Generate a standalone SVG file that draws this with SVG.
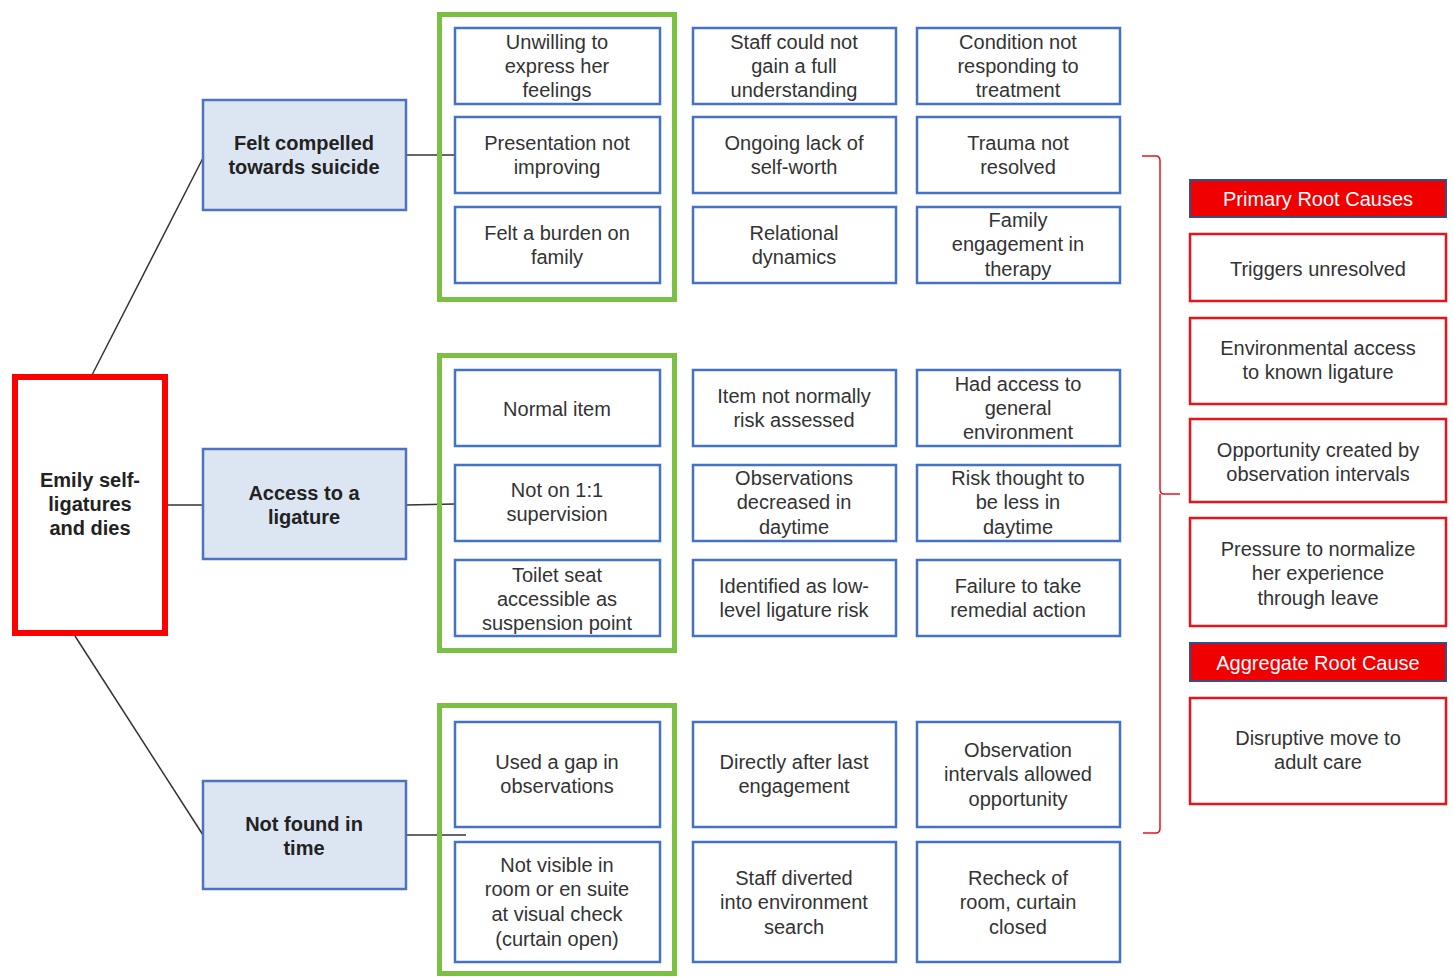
<svg xmlns="http://www.w3.org/2000/svg" width="1453" height="977" viewBox="0 0 1453 977">
<style>
text{font-family:"Liberation Sans",Arial,sans-serif;font-size:20px;fill:#333;text-anchor:middle}
.b{font-weight:bold;fill:#222}
.w{fill:#fff}
.inner{fill:#fff;stroke:#4472c4;stroke-width:2.5}
.lvl{fill:#dce6f2;stroke:#4f72c0;stroke-width:2.5}
.green{fill:none;stroke:#7ac143;stroke-width:5}
.rc{fill:#fff;stroke:#e8141c;stroke-width:2.5}
.hdr{fill:#f00000;stroke:#2f4f8f;stroke-width:2}
.conn{fill:none;stroke:#333;stroke-width:1.5}
</style>
<rect width="1453" height="977" fill="#fff"/>
<g id="connectors">
<line class="conn" x1="92" y1="375" x2="203" y2="158"/>
<line class="conn" x1="168" y1="505" x2="203" y2="505"/>
<line class="conn" x1="75" y1="636" x2="203" y2="835"/>
<line class="conn" x1="406" y1="155" x2="455" y2="155"/>
<line class="conn" x1="406" y1="505" x2="455" y2="504"/>
<line class="conn" x1="406" y1="835" x2="466" y2="835"/>
<path d="M1142 156 L1156 156 Q1160 156 1160 161 L1160 489 Q1160 494 1164 494 L1180 494 M1160 494 L1160 828 Q1160 833 1156 833 L1143 833" fill="none" stroke="#e8141c" stroke-width="1.5"/>
</g>
<g id="root">
<rect x="15" y="377" width="150" height="256" fill="#fff" stroke="#f00" stroke-width="6"/>
<text class="b" x="90" y="487">Emily self-</text>
<text class="b" x="90" y="511">ligatures</text>
<text class="b" x="90" y="535">and dies</text>
</g>
<g id="l1-compelled"><rect class="lvl" x="203" y="100" width="203" height="110"/>
<text class="b" x="304" y="150">Felt compelled</text><text class="b" x="304" y="174">towards suicide</text></g>
<g id="l1-access"><rect class="lvl" x="203" y="449" width="203" height="110"/>
<text class="b" x="304" y="500">Access to a</text><text class="b" x="304" y="524">ligature</text></g>
<g id="l1-notfound"><rect class="lvl" x="203" y="781" width="203" height="108"/>
<text class="b" x="304" y="831">Not found in</text><text class="b" x="304" y="855">time</text></g>
<g id="green-groups">
<rect class="green" x="439.5" y="14.5" width="235" height="285"/>
<rect class="green" x="439.5" y="355.5" width="235" height="295"/>
<rect class="green" x="439.5" y="705.5" width="235" height="268"/>
</g>
<g id="top-c1r1"><rect class="inner" x="455" y="28" width="205" height="76"/><text x="557" y="49">Unwilling to</text><text x="557" y="73">express her</text><text x="557" y="97">feelings</text></g>
<g id="top-c1r2"><rect class="inner" x="455" y="117" width="205" height="76"/><text x="557" y="150">Presentation not</text><text x="557" y="174">improving</text></g>
<g id="top-c1r3"><rect class="inner" x="455" y="207" width="205" height="76"/><text x="557" y="240">Felt a burden on</text><text x="557" y="264">family</text></g>
<g id="top-c2r1"><rect class="inner" x="693" y="28" width="203" height="76"/><text x="794" y="49">Staff could not</text><text x="794" y="73">gain a full</text><text x="794" y="97">understanding</text></g>
<g id="top-c2r2"><rect class="inner" x="693" y="117" width="203" height="76"/><text x="794" y="150">Ongoing lack of</text><text x="794" y="174">self-worth</text></g>
<g id="top-c2r3"><rect class="inner" x="693" y="207" width="203" height="76"/><text x="794" y="240">Relational</text><text x="794" y="264">dynamics</text></g>
<g id="top-c3r1"><rect class="inner" x="917" y="28" width="203" height="76"/><text x="1018" y="49">Condition not</text><text x="1018" y="73">responding to</text><text x="1018" y="97">treatment</text></g>
<g id="top-c3r2"><rect class="inner" x="917" y="117" width="203" height="76"/><text x="1018" y="150">Trauma not</text><text x="1018" y="174">resolved</text></g>
<g id="top-c3r3"><rect class="inner" x="917" y="207" width="203" height="76"/><text x="1018" y="227">Family</text><text x="1018" y="251">engagement in</text><text x="1018" y="276">therapy</text></g>
<g id="mid-c1r1"><rect class="inner" x="455" y="370" width="205" height="76"/><text x="557" y="416">Normal item</text></g>
<g id="mid-c1r2"><rect class="inner" x="455" y="465" width="205" height="76"/><text x="557" y="497">Not on 1:1</text><text x="557" y="521">supervision</text></g>
<g id="mid-c1r3"><rect class="inner" x="455" y="560" width="205" height="76"/><text x="557" y="582">Toilet seat</text><text x="557" y="606">accessible as</text><text x="557" y="630">suspension point</text></g>
<g id="mid-c2r1"><rect class="inner" x="693" y="370" width="203" height="76"/><text x="794" y="403">Item not normally</text><text x="794" y="427">risk assessed</text></g>
<g id="mid-c2r2"><rect class="inner" x="693" y="465" width="203" height="76"/><text x="794" y="485">Observations</text><text x="794" y="509">decreased in</text><text x="794" y="534">daytime</text></g>
<g id="mid-c2r3"><rect class="inner" x="693" y="560" width="203" height="76"/><text x="794" y="593">Identified as low-</text><text x="794" y="617">level ligature risk</text></g>
<g id="mid-c3r1"><rect class="inner" x="917" y="370" width="203" height="76"/><text x="1018" y="391">Had access to</text><text x="1018" y="415">general</text><text x="1018" y="439">environment</text></g>
<g id="mid-c3r2"><rect class="inner" x="917" y="465" width="203" height="76"/><text x="1018" y="485">Risk thought to</text><text x="1018" y="509">be less in</text><text x="1018" y="534">daytime</text></g>
<g id="mid-c3r3"><rect class="inner" x="917" y="560" width="203" height="76"/><text x="1018" y="593">Failure to take</text><text x="1018" y="617">remedial action</text></g>
<g id="bot-c1r1"><rect class="inner" x="455" y="722" width="205" height="105"/><text x="557" y="769">Used a gap in</text><text x="557" y="793">observations</text></g>
<g id="bot-c1r2"><rect class="inner" x="455" y="842" width="205" height="120"/><text x="557" y="872">Not visible in</text><text x="557" y="896">room or en suite</text><text x="557" y="921">at visual check</text><text x="557" y="946">(curtain open)</text></g>
<g id="bot-c2r1"><rect class="inner" x="693" y="722" width="203" height="105"/><text x="794" y="769">Directly after last</text><text x="794" y="793">engagement</text></g>
<g id="bot-c2r2"><rect class="inner" x="693" y="842" width="203" height="120"/><text x="794" y="885">Staff diverted</text><text x="794" y="909">into environment</text><text x="794" y="934">search</text></g>
<g id="bot-c3r1"><rect class="inner" x="917" y="722" width="203" height="105"/><text x="1018" y="757">Observation</text><text x="1018" y="781">intervals allowed</text><text x="1018" y="806">opportunity</text></g>
<g id="bot-c3r2"><rect class="inner" x="917" y="842" width="203" height="120"/><text x="1018" y="885">Recheck of</text><text x="1018" y="909">room, curtain</text><text x="1018" y="934">closed</text></g>
<g id="hdr-primary"><rect class="hdr" x="1190" y="180" width="256" height="37"/><text class="w" x="1318" y="206">Primary Root Causes</text></g>
<g id="rc-triggers"><rect class="rc" x="1190" y="234" width="256" height="67"/><text x="1318" y="276">Triggers unresolved</text></g>
<g id="rc-env"><rect class="rc" x="1190" y="318" width="256" height="86"/><text x="1318" y="355">Environmental access</text><text x="1318" y="379">to known ligature</text></g>
<g id="rc-opp"><rect class="rc" x="1190" y="419" width="256" height="83"/><text x="1318" y="457">Opportunity created by</text><text x="1318" y="481">observation intervals</text></g>
<g id="rc-pressure"><rect class="rc" x="1190" y="518" width="256" height="108"/><text x="1318" y="556">Pressure to normalize</text><text x="1318" y="580">her experience</text><text x="1318" y="605">through leave</text></g>
<g id="hdr-aggregate"><rect class="hdr" x="1190" y="643" width="256" height="38"/><text class="w" x="1318" y="670">Aggregate Root Cause</text></g>
<g id="rc-disruptive"><rect class="rc" x="1190" y="698" width="256" height="106"/><text x="1318" y="745">Disruptive move to</text><text x="1318" y="769">adult care</text></g>
</svg>
